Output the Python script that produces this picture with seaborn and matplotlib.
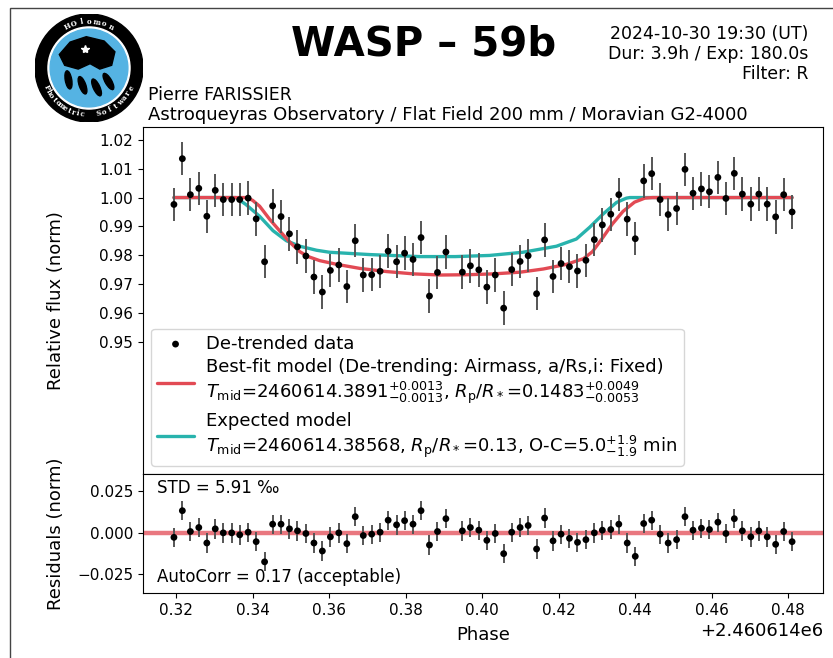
import numpy as np
import matplotlib
matplotlib.use("Agg")
import matplotlib.pyplot as plt
from matplotlib.patches import Circle, Polygon, Ellipse, Rectangle
import seaborn as sns

sns.set_style("ticks")
plt.rcParams['font.family'] = ['DejaVu Sans']
plt.rcParams.update({'axes.edgecolor': 'black', 'text.color': 'black', 'axes.labelcolor': 'black',
                     'xtick.color': 'black', 'ytick.color': 'black'})

# ---- data ----
jd_base = 2460614.0
phase = [0.3194, 0.3216, 0.3237, 0.3259, 0.3280, 0.3302, 0.3323, 0.3345, 0.3366, 0.3388,
         0.3409, 0.3431, 0.3452, 0.3474, 0.3496, 0.3517, 0.3539, 0.3560, 0.3582, 0.3603,
         0.3625, 0.3646, 0.3668, 0.3689, 0.3711, 0.3733, 0.3754, 0.3776, 0.3797, 0.3819,
         0.3840, 0.3862, 0.3883, 0.3905,
         0.3948, 0.3969, 0.3991, 0.4012, 0.4034, 0.4056, 0.4077, 0.4099, 0.4120, 0.4142,
         0.4163, 0.4185, 0.4206, 0.4228, 0.4249, 0.4271, 0.4293, 0.4314, 0.4336, 0.4357,
         0.4379, 0.4400, 0.4422, 0.4443, 0.4465, 0.4486, 0.4508, 0.4530, 0.4551, 0.4573,
         0.4594, 0.4616, 0.4637, 0.4659, 0.4680, 0.4702, 0.4723, 0.4745, 0.4767, 0.4788, 0.4810]
flux = [0.9976, 1.0135, 1.0010, 1.0032, 0.9935, 1.0025, 0.9993, 0.9993, 0.9993, 0.9998,
        0.9926, 0.9777, 0.9971, 0.9934, 0.9874, 0.9829, 0.9797, 0.9724, 0.9672, 0.9747,
        0.9766, 0.9691, 0.9850, 0.9731, 0.9732, 0.9744, 0.9814, 0.9777, 0.9807, 0.9785,
        0.9861, 0.9658, 0.9740, 0.9811,
        0.9741, 0.9763, 0.9749, 0.9689, 0.9731, 0.9616, 0.9750, 0.9778, 0.9798, 0.9666,
        0.9853, 0.9726, 0.9771, 0.9760, 0.9745, 0.9782, 0.9854, 0.9905, 0.9942, 1.0010,
        0.9925, 0.9857, 1.0058, 1.0083, 0.9993, 0.9941, 0.9962, 1.0098, 1.0015, 1.0030,
        1.0020, 1.0070, 0.9997, 1.0084, 1.0012, 0.9977, 1.0012, 0.9977, 0.9933, 1.0010, 0.9950]
resid = [-0.0027, 0.0133, 0.0008, 0.0032, -0.0061, 0.0024, 0.0000, 0.0000, -0.0012, 0.0004,
         -0.0053, -0.0174, 0.0052, 0.0052, 0.0024, 0.0012, -0.0004, -0.0061, -0.0109, -0.0024,
         0.0000, -0.0065, 0.0097, -0.0016, -0.0008, 0.0004, 0.0076, 0.0048, 0.0073, 0.0052,
         0.0133, -0.0073, 0.0008, 0.0085,
         0.0012, 0.0032, 0.0016, -0.0045, -0.0004, -0.0125, 0.0004, 0.0032, 0.0044, -0.0097,
         0.0089, -0.0048, -0.0008, -0.0033, -0.0057, -0.0041, 0.0000, 0.0016, 0.0020, 0.0052,
         -0.0061, -0.0141, 0.0056, 0.0076, -0.0008, -0.0061, -0.0041, 0.0097, 0.0016, 0.0028,
         0.0020, 0.0064, -0.0004, 0.0085, 0.0012, -0.0024, 0.0012, -0.0024, -0.0069, 0.0008, -0.0053]
flux_err = 0.0058

# best-fit model (red) and expected model (teal)
fit_x = [0.3194, 0.3385, 0.3400, 0.3418, 0.3444, 0.3470, 0.3497, 0.3523, 0.3545, 0.3575,
         0.3620, 0.3680, 0.3750, 0.3820, 0.3890, 0.3960, 0.4030, 0.4100, 0.4160, 0.4220,
         0.4265, 0.4288, 0.4312, 0.4340, 0.4368, 0.4398, 0.4425, 0.4445, 0.4810]
fit_y = [1.0000, 1.0000, 0.9990, 0.9970, 0.9925, 0.9885, 0.9845, 0.9812, 0.9795, 0.9781,
         0.9768, 0.9754, 0.9743, 0.9735, 0.9731, 0.9732, 0.9735, 0.9741, 0.9752, 0.9768,
         0.9788, 0.9812, 0.9855, 0.9908, 0.9952, 0.9984, 0.9998, 1.0000, 1.0000]
exp_x = [0.3194, 0.3356, 0.3382, 0.3418, 0.3453, 0.3488, 0.3523, 0.3567, 0.3601, 0.3706,
         0.3836, 0.3930, 0.4019, 0.4106, 0.4194, 0.4246, 0.4281, 0.4316, 0.4351, 0.4377,
         0.4386, 0.4810]
exp_y = [1.0000, 1.0000, 0.9976, 0.9935, 0.9885, 0.9850, 0.9831, 0.9817, 0.9810, 0.9802,
         0.9795, 0.9795, 0.9799, 0.9810, 0.9831, 0.9856, 0.9897, 0.9943, 0.9983, 0.9998,
         1.0000, 1.0000]

lab_data = "De-trended data"
lab_fit = ("Best-fit model (De-trending: Airmass, a/Rs,i: Fixed)\n"
           "$T_{\\mathrm{mid}}$=2460614.3891$^{+0.0013}_{-0.0013}$, "
           "$R_{\\mathrm{p}}/R_*$=0.1483$^{+0.0049}_{-0.0053}$")
lab_exp = ("Expected model\n"
           "$T_{\\mathrm{mid}}$=2460614.38568, $R_{\\mathrm{p}}/R_*$=0.13, "
           "O-C=5.0$^{+1.9}_{-1.9}$ min")

red = '#e24a54'
teal = '#28b3ad'

t = jd_base + np.array(phase)
tf = jd_base + np.array(fit_x)
te = jd_base + np.array(exp_x)

fig = plt.figure(figsize=(8.33, 6.58), dpi=100)
ax1 = fig.add_axes([0.1717, 0.2796, 0.8163, 0.5274])
ax2 = fig.add_axes([0.1717, 0.0988, 0.8163, 0.1808], sharex=ax1)

# main panel
sns.lineplot(x=te, y=exp_y, ax=ax1, color=teal, lw=2.4, label=lab_exp, zorder=2)
sns.lineplot(x=tf, y=fit_y, ax=ax1, color=red, lw=2.4, label=lab_fit, zorder=2.5)
ax1.errorbar(t, flux, yerr=flux_err, fmt='none', ecolor='#555555', elinewidth=1.4, zorder=3)
sns.scatterplot(x=t, y=flux, ax=ax1, color='k', s=24, edgecolor='none', zorder=4, label=lab_data)

ax1.set_ylim(0.904, 1.0245)
ax1.set_yticks([0.95, 0.96, 0.97, 0.98, 0.99, 1.00, 1.01, 1.02])
ax1.tick_params(labelbottom=False, labelsize=11)
ax1.set_ylabel("Relative flux (norm)", fontsize=13)

h, l = ax1.get_legend_handles_labels()
order = [l.index(lab_data), l.index(lab_fit), l.index(lab_exp)]
ax1.legend([h[i] for i in order], [l[i] for i in order], loc='lower left',
           fontsize=13, frameon=True, borderaxespad=0.45, labelspacing=0.3,
           borderpad=0.35, handletextpad=0.7)

# residuals panel
ax2.axhline(0, color=red, lw=3.2, alpha=0.75, zorder=2)
ax2.errorbar(t, resid, yerr=flux_err, fmt='none', ecolor='#555555', elinewidth=1.4, zorder=3)
sns.scatterplot(x=t, y=resid, ax=ax2, color='k', s=24, edgecolor='none', zorder=4)
ax2.set_ylim(-0.0361, 0.0353)
ax2.set_yticks([-0.025, 0.0, 0.025])
ax2.tick_params(labelsize=11)
ax2.set_ylabel("Residuals (norm)", fontsize=13)
ax2.set_xlabel("Phase", fontsize=13, labelpad=6)
ax2.xaxis.get_offset_text().set_fontsize(13)
ax2.text(0.02, 0.88, "STD = 5.91 \u2030", transform=ax2.transAxes, fontsize=12, va='center')
ax2.text(0.02, 0.135, "AutoCorr = 0.17 (acceptable)", transform=ax2.transAxes, fontsize=12, va='center')
for a in (ax1, ax2):
    a.yaxis.set_label_coords(-0.115, 0.5)

# header texts
fig.text(0.509, 0.932, "WASP \u2013 59b", ha='center', va='center', fontsize=29, weight='bold')
fig.text(0.970, 0.962, "2024-10-30 19:30 (UT)\nDur: 3.9h / Exp: 180.0s\nFilter: R",
         ha='right', va='top', fontsize=12.5, linespacing=1.15)
fig.text(148 / 833, 1 - 95 / 658, "Pierre FARISSIER", ha='left', va='center', fontsize=12.5)
fig.text(148 / 833, 1 - 115 / 658, "Astroqueyras Observatory / Flat Field 200 mm / Moravian G2-4000",
         ha='left', va='center', fontsize=13)

# logo
lax = fig.add_axes([35 / 833, 1 - 122 / 658, 108 / 833, 108 / 658])
lax.set_xlim(-1, 1)
lax.set_ylim(-1, 1)
lax.set_aspect('equal')
lax.axis('off')
lax.add_patch(Circle((0, 0), 1.0, color='black'))
lax.add_patch(Circle((0, 0), 0.76, color='white'))
lax.add_patch(Circle((0, 0), 0.72, color='#55b3e3'))
lax.add_patch(Polygon([(-0.55, 0.25), (-0.35, 0.48), (-0.05, 0.58), (0.28, 0.5), (0.48, 0.3),
                       (0.42, 0.05), (0.2, -0.02), (0.02, 0.08), (-0.2, -0.02), (-0.45, 0.05)],
                      closed=True, color='black'))
for cx, cy, ang in [(-0.38, -0.22, 60), (-0.12, -0.32, 70), (0.14, -0.36, 75), (0.36, -0.25, 80)]:
    lax.add_patch(Ellipse((cx, cy), 0.12, 0.34, angle=ang - 90 + 40, color='black'))
lax.plot([-0.08], [0.36], marker='*', color='white', markersize=6)
for txt, a0, a1, top in [("HOlomon", 118, 62, True), ("Photometric", 205, 262, False),
                         ("Software", 282, 335, False)]:
    angs = np.linspace(a0, a1, len(txt))
    for ch, a in zip(txt, angs):
        r = 0.86 if top else 0.87
        rot = a - 90 if top else a + 90
        lax.text(r * np.cos(np.radians(a)), r * np.sin(np.radians(a)), ch, color='white',
                 fontsize=5, family='DejaVu Serif', weight='bold', rotation=rot,
                 ha='center', va='center')

# thin frame of the screenshot
fig.add_artist(Rectangle((10 / 833, -0.1), 2, 1 - 8 / 658 + 0.1, transform=fig.transFigure,
                         fill=False, edgecolor='#444444', lw=1))

fig.savefig("out.png", dpi=100)
